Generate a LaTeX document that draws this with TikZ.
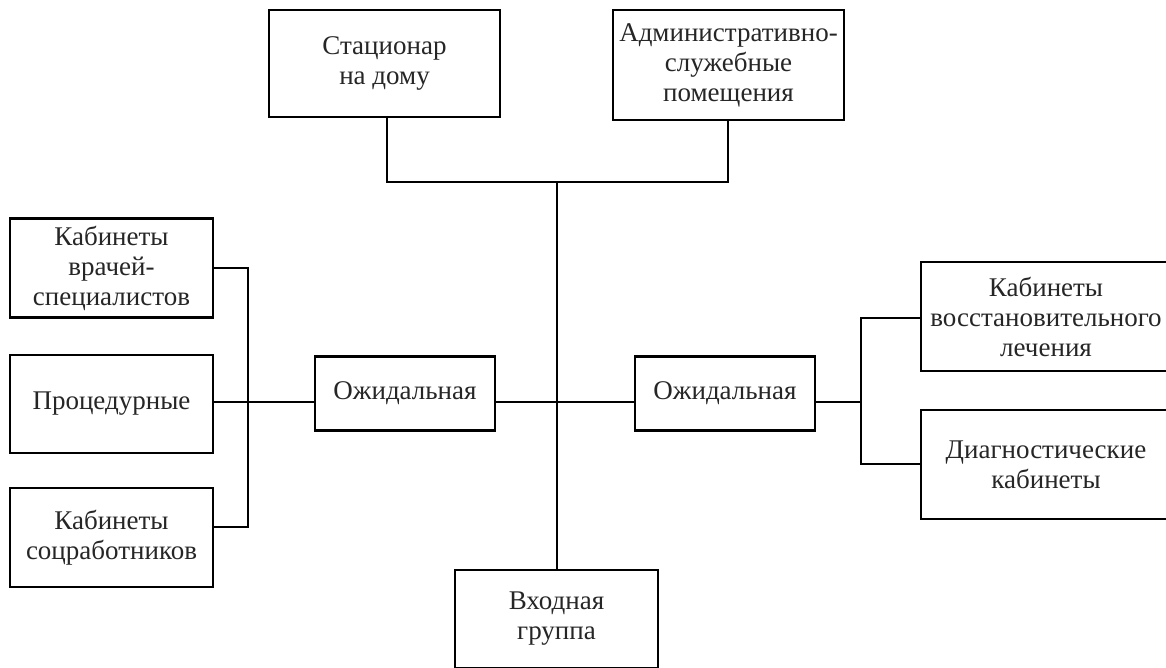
\documentclass[tikz,border=0pt]{standalone}
\usepackage{fontspec}
\setmainfont{Liberation Serif}
\begin{document}
\begin{tikzpicture}[x=1pt,y=-1pt,
  box/.style={draw=black, line width=2.2pt, align=center, inner sep=0pt,
    font=\fontsize{27}{30}\selectfont, text=black!85},
  wire/.style={draw=black, line width=2.2pt}]
\useasboundingbox[fill=white] (0,0) rectangle (1166,668);
% nodes
\node[box, minimum width=231, minimum height=107] (T1) at (384.5,63.5) {Стационар\\на дому};
\node[box, minimum width=231, minimum height=110] (T2) at (728.5,65) {Административно-\\служебные\\помещения};
\node[box, minimum width=203, minimum height=99] (L1) at (111.5,268) {Кабинеты\\врачей-\\специалистов};
\node[box, minimum width=203, minimum height=98] (L2) at (111.5,404) {Процедурные};
\node[box, minimum width=203, minimum height=99] (L3) at (111.5,537.5) {Кабинеты\\соцработников};
\node[box, minimum width=180, minimum height=74] (W1) at (405,393.5) {Ожидальная};
\node[box, minimum width=180, minimum height=74] (W2) at (725,393.5) {Ожидальная};
\node[box, minimum width=250, minimum height=109] (R1) at (1046,316.5) {Кабинеты\\восстановительного\\лечения};
\node[box, minimum width=250, minimum height=109] (R2) at (1046,464.5) {Диагностические\\кабинеты};
\node[box, minimum width=203, minimum height=98] (In) at (556.5,619) {Входная\\группа};
% junction points
\coordinate (tl) at (387,182);
\coordinate (tr) at (728,182);
\coordinate (tj) at (557,182);
\coordinate (hub) at (557,402);
\coordinate (lt) at (248,268);
\coordinate (lm) at (248,402);
\coordinate (lb) at (248,527);
\coordinate (rt) at (861,318);
\coordinate (rm) at (861,402);
\coordinate (rb) at (861,464);
% connectors
\draw[wire] (T1.south -| tl) -- (tl) -- (tr) -- (T2.south -| tr);
\draw[wire] (tj) -- (In.north -| tj);
\draw[wire] (L1.east |- lt) -- (lt) -- (lb) -- (L3.east |- lb);
\draw[wire] (L2.east |- lm) -- (W1.west |- lm);
\draw[wire] (W1.east |- hub) -- (W2.west |- hub);
\draw[wire] (W2.east |- rm) -- (rm);
\draw[wire] (R1.west |- rt) -- (rt) -- (rb) -- (R2.west |- rb);
\end{tikzpicture}
\end{document}
